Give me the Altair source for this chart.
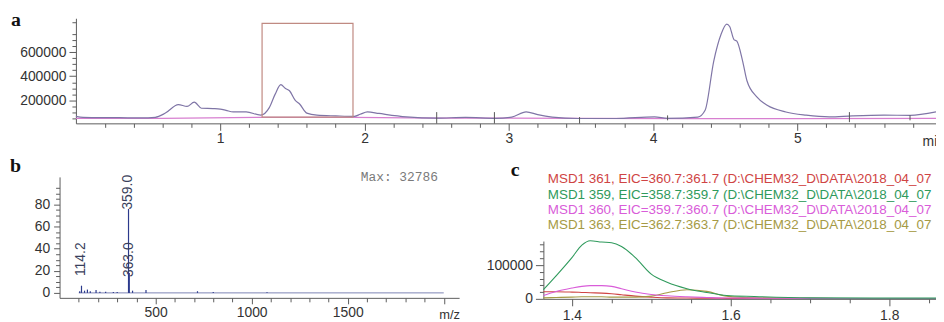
import altair as alt
import pandas as pd

# ---------------- panel a : total ion chromatogram ----------------
a_time = [0.00, 0.05, 0.15, 0.30, 0.45, 0.55, 0.62, 0.71, 0.77, 0.82,
          0.87, 0.95, 1.00, 1.04, 1.09, 1.18, 1.28, 1.34, 1.38, 1.42,
          1.45, 1.48, 1.52, 1.55, 1.60, 1.67, 1.80, 1.93, 1.97, 2.02,
          2.10, 2.29, 2.50, 2.70, 2.91, 3.02, 3.12, 3.20, 3.30, 3.48,
          3.74, 4.01, 4.10, 4.31, 4.36, 4.42, 4.47, 4.51, 4.53, 4.56,
          4.58, 4.62, 4.65, 4.72, 4.79, 4.92, 5.06, 5.22, 5.38, 5.60,
          5.78, 5.96]
a_tic = [68000, 60000, 58000, 57000, 55000, 60000, 95000, 165000, 150000, 185000,
         135000, 132000, 128000, 118000, 105000, 105000, 78000, 140000, 250000, 330000,
         300000, 280000, 200000, 170000, 95000, 78000, 72000, 68000, 85000, 105000,
         92000, 64000, 53000, 60000, 52000, 62000, 105000, 82000, 62000, 50000,
         50000, 64000, 52000, 62000, 118000, 526000, 745000, 831000, 812000, 704000,
         690000, 526000, 363000, 227000, 159000, 104000, 78000, 64000, 72000, 78000,
         76000, 105000]
a_base_time = [0.0, 0.6, 1.3, 1.92, 2.5, 3.5, 4.3, 5.0, 5.96]
a_base_val = [52000, 52000, 60000, 60000, 54000, 52000, 50000, 50000, 52000]
a_box_start = [1.29]
a_box_end = [1.92]
a_box_low = [61000]
a_box_high = [837000]
a_mark_time = [2.5, 2.9, 3.49, 4.1, 5.36, 5.78]
a_mark_top = [103000, 103000, 62000, 76000, 103000, 76000]
a_mark_bottom = [8000, 8000, 8000, 35000, 20000, 35000]

# ---------------- panel b : mass spectrum ----------------
b_mz = [105, 114.2, 130, 145, 160, 190, 210, 240, 280, 300, 359.0, 363.0, 380, 450, 718, 800, 1080]
b_int = [1.5, 6.5, 2, 3, 1.5, 2.5, 1, 1, 0.8, 0.8, 76, 18, 2, 2.5, 1.5, 0.8, 0.5]
b_label_text = ["114.2", "363.0", "359.0"]
b_label_mz = [114.2, 363.0, 359.0]
b_label_y = [15.2, 14.3, 75.4]
b_base_start = [100]
b_base_end = [2000]
b_max_text = ["Max: 32786"]
b_max_mz = [1970]
b_max_y = [105]

# ---------------- panel c : extracted ion chromatograms ----------------
c_time = [1.364, 1.38, 1.40, 1.4125, 1.423, 1.4375, 1.45, 1.4625, 1.48, 1.50,
          1.52, 1.545, 1.57, 1.595, 1.63, 1.70, 1.78, 1.859]
c_359 = [27000, 68000, 122000, 159000, 172000, 168000, 166000, 155000, 122000, 73000,
         49000, 30000, 19000, 10000, 7000, 3000, 2000, 2000]
c_360 = [10000, 22000, 32000, 37000, 39000, 39000, 37000, 30000, 20000, 13000,
         9000, 6000, 4000, 2500, 2000, 1500, 1000, 1000]
c_361 = [21000, 21000, 20000, 19000, 18000, 17000, 15000, 12000, 8000, 5000,
         3000, 2500, 2000, 1500, 1500, 1000, 1000, 1000]
c_363 = [3000, 4000, 5000, 6000, 6000, 6000, 5000, 5000, 5000, 8000,
         18000, 27000, 22000, 8000, 3000, 1500, 1000, 1000]
c_legend_series = ["361", "359", "360", "363"]
c_legend_text = [
    r"MSD1 361, EIC=360.7:361.7 (D:\CHEM32_D\DATA\2018_04_07",
    r"MSD1 359, EIC=358.7:359.7 (D:\CHEM32_D\DATA\2018_04_07",
    r"MSD1 360, EIC=359.7:360.7 (D:\CHEM32_D\DATA\2018_04_07",
    r"MSD1 363, EIC=362.7:363.7 (D:\CHEM32_D\DATA\2018_04_07",
]
c_colors = ["#cf4444", "#2f9a5c", "#d95cd9", "#a59a45"]

# ---------------- tables ----------------
df_a = pd.DataFrame({"t": a_time, "v": a_tic})
df_a_base = pd.DataFrame({"t": a_base_time, "v": a_base_val})
df_a_box = pd.DataFrame({"t": a_box_start, "t2": a_box_end, "v": a_box_low, "v2": a_box_high})
df_a_mark = pd.DataFrame({"t": a_mark_time, "v": a_mark_top, "v2": a_mark_bottom})
df_b = pd.DataFrame({"mz": b_mz, "i": b_int})
df_b_lab = pd.DataFrame({"mz": b_label_mz, "y": b_label_y, "txt": b_label_text})
df_b_base = pd.DataFrame({"mz": b_base_start, "mz2": b_base_end, "y": [0]})
df_b_max = pd.DataFrame({"mz": b_max_mz, "y": b_max_y, "txt": b_max_text})
rows = []
for s, vals in (("361", c_361), ("363", c_363), ("360", c_360), ("359", c_359)):
    for t, v in zip(c_time, vals):
        rows.append({"t": t, "v": v, "s": s})
df_c = pd.DataFrame(rows)
df_c_minor = df_c[df_c["s"].isin(["361", "363"])]
df_c_major = df_c[df_c["s"].isin(["360", "359"])]
df_leg = pd.DataFrame({"row": list(range(4)), "s": c_legend_series, "txt": c_legend_text})

# ---------------- scales ----------------
FONT = "Liberation Sans"
ax_x = alt.Scale(domain=[0, 5.96], range=[68.5, 936], nice=False, zero=False)
ax_y = alt.Scale(domain=[10000, 880000], range=[115, 9], nice=False, zero=False)
bx = alt.Scale(domain=[0, 2080], range=[52, 455], nice=False, zero=False)
by = alt.Scale(domain=[-4.5, 105], range=[291, 169], nice=False, zero=False)
cx = alt.Scale(domain=[1.364, 1.859], range=[540, 936], nice=False, zero=False)
cy = alt.Scale(domain=[0, 171000], range=[292, 233.7], nice=False, zero=False)
leg_y = alt.Scale(domain=[0, 3], range=[171.3, 218], nice=False, zero=False)
col = alt.Scale(domain=["361", "359", "360", "363"], range=c_colors)

AXC = dict(grid=False, domainColor="#5c5c5c", tickColor="#5c5c5c", labelColor="#333333",
           labelFont=FONT, labelFlush=False, labelOverlap=False, domainWidth=1, tickWidth=1)


def major(orient, offset, values, size, pad, fs, fmt, **kw):
    return alt.Axis(orient=orient, offset=offset, values=values, tickSize=size,
                    labelPadding=pad, labelFontSize=fs, format=fmt, **AXC, **kw)


def minor(orient, offset, values):
    return alt.Axis(orient=orient, offset=offset, values=values, tickSize=4, labels=False,
                    domain=False, title=None, grid=False, tickColor="#5c5c5c")


a_minor_x = [round(0.2 * k, 1) for k in range(1, 30) if k % 5 != 0]
a_minor_y = [50000 * k for k in range(1, 18) if k % 4 != 0]
b_minor_x = [100 * k for k in range(1, 20) if k % 5 != 0]
b_minor_y = [5 * k for k in range(1, 21) if k % 4 != 0]
c_minor_x = [1.45, 1.5, 1.55, 1.65, 1.7, 1.75, 1.85]
c_minor_y = [20000, 40000, 60000, 80000, 120000, 140000, 160000]

# ---------------- panel a layers ----------------
a_base = alt.Chart(df_a_base).mark_line(color="#d77fd0", strokeWidth=1.3).encode(
    x=alt.X("t:Q", scale=ax_x, axis=minor("bottom", -199, a_minor_x)),
    y=alt.Y("v:Q", scale=ax_y, axis=minor("left", -68.5, a_minor_y)),
)
a_main = alt.Chart(df_a).mark_line(color="#7f75a6", strokeWidth=1.2, interpolate="monotone").encode(
    x=alt.X("t:Q", scale=ax_x,
            axis=major("bottom", -199, [1, 2, 3, 4, 5], 7, 1, 14, "d",
                       title="min", titleX=922, titleY=22, titleAlign="left",
                       titleBaseline="alphabetic", titleFontWeight="normal",
                       titleFontSize=14, titleColor="#333333", titleFont=FONT)),
    y=alt.Y("v:Q", scale=ax_y,
            axis=major("left", -68.5, [200000, 400000, 600000], 7, 3, 14, "d", title=None)),
)
a_box = alt.Chart(df_a_box).mark_rect(fillOpacity=0, stroke="#c08a82", strokeWidth=1.2).encode(
    x=alt.X("t:Q", scale=ax_x, axis=None), x2="t2:Q",
    y=alt.Y("v:Q", scale=ax_y, axis=None), y2="v2:Q",
)
a_marks = alt.Chart(df_a_mark).mark_rule(color="#555555", strokeWidth=1).encode(
    x=alt.X("t:Q", scale=ax_x, axis=None),
    y=alt.Y("v:Q", scale=ax_y, axis=None), y2="v2:Q",
)

# ---------------- panel b layers ----------------
b_base = alt.Chart(df_b_base).mark_rule(color="#7d84b5", strokeWidth=1).encode(
    x=alt.X("mz:Q", scale=bx, axis=minor("bottom", -23, b_minor_x)), x2="mz2:Q",
    y=alt.Y("y:Q", scale=by, axis=minor("left", -52, b_minor_y)),
)
b_peaks = alt.Chart(df_b).mark_rule(color="#2c3a8c", strokeWidth=1.2).encode(
    x=alt.X("mz:Q", scale=bx,
            axis=major("bottom", -23, [500, 1000, 1500, 2000], 6, 2, 14, "d",
                       labelExpr="datum.value < 2000 ? datum.label : ''",
                       title="m/z", titleX=445, titleY=21, titleAlign="center",
                       titleBaseline="alphabetic", titleFontWeight="normal",
                       titleFontSize=13, titleColor="#333333", titleFont=FONT)),
    y=alt.Y("i:Q", scale=by,
            axis=major("left", -52, [0, 20, 40, 60, 80], 6, 4, 14, "d", title=None)),
    y2=alt.datum(0),
)
b_labels = alt.Chart(df_b_lab).mark_text(angle=270, align="left", baseline="middle",
                                         font=FONT, fontSize=14, color="#3a3f5c").encode(
    x=alt.X("mz:Q", scale=bx, axis=None),
    y=alt.Y("y:Q", scale=by, axis=None),
    text="txt:N",
)
b_max = alt.Chart(df_b_max).mark_text(align="right", baseline="middle", font="Liberation Mono",
                                      fontSize=13, color="#7a7a7a").encode(
    x=alt.X("mz:Q", scale=bx, axis=None),
    y=alt.Y("y:Q", scale=by, axis=None),
    text="txt:N",
)

# ---------------- panel c layers ----------------
c_lines_minor = alt.Chart(df_c_minor).mark_line(strokeWidth=1.1, interpolate="monotone").encode(
    x=alt.X("t:Q", scale=cx, axis=minor("bottom", -22, c_minor_x)),
    y=alt.Y("v:Q", scale=cy, axis=minor("left", -540, c_minor_y)),
    color=alt.Color("s:N", scale=col, legend=None),
)
c_lines_major = alt.Chart(df_c_major).mark_line(strokeWidth=1.1, interpolate="monotone").encode(
    x=alt.X("t:Q", scale=cx,
            axis=major("bottom", -22, [1.4, 1.6, 1.8], 7, 3, 14, ".1f", title=None)),
    y=alt.Y("v:Q", scale=cy,
            axis=major("left", -540, [0, 100000], 8, 3, 14, "d", title=None)),
    color=alt.Color("s:N", scale=col, legend=None),
)
c_legend = alt.Chart(df_leg).mark_text(align="left", baseline="middle", font=FONT,
                                       fontSize=13.5).encode(
    x=alt.value(544.5),
    y=alt.Y("row:Q", scale=leg_y, axis=None),
    text="txt:N",
    color=alt.Color("s:N", scale=col, legend=None),
)


def letter(ch, x, y):
    return alt.Chart(pd.DataFrame({"k": [0]})).mark_text(
        text=ch, font="Liberation Serif", fontWeight="bold", fontSize=20,
        align="left", baseline="alphabetic", color="#111111"
    ).encode(x=alt.value(x), y=alt.value(y))


chart = alt.layer(
    a_base, a_main, a_box, a_marks,
    b_base, b_peaks, b_labels, b_max,
    c_lines_minor, c_lines_major, c_legend,
    letter("a", 3, 17), letter("b", 2, 164), letter("c", 507, 168),
).resolve_scale(
    x="independent", y="independent"
).properties(
    width=936, height=314,
    autosize=alt.AutoSizeParams(type="none"),
    padding=0,
).configure_view(stroke=None)

chart.save("out.html", embed_options={"renderer": "svg", "actions": False})
